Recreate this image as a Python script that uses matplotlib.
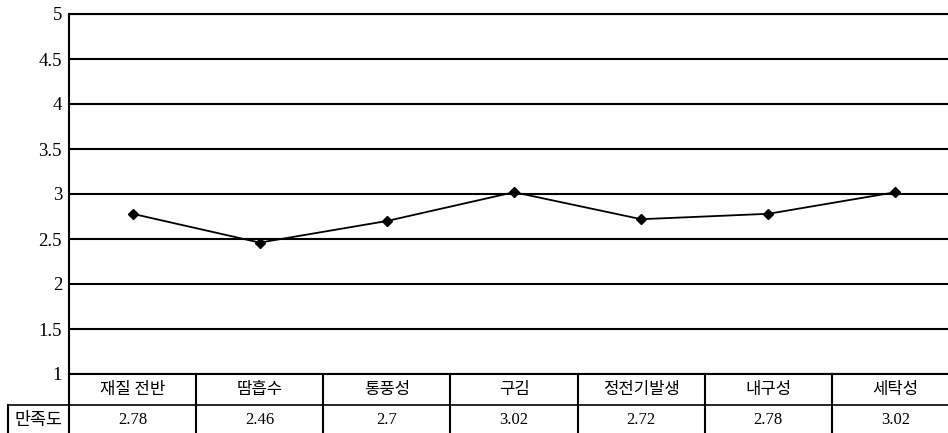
import matplotlib
matplotlib.use("Agg")
from matplotlib import pyplot as plt
from matplotlib.lines import Line2D

# chart values
categories = ["재질 전반", "땀흡수", "통풍성", "구김", "정전기발생", "내구성", "세탁성"]
satisfaction = [2.78, 2.46, 2.7, 3.02, 2.72, 2.78, 3.02]
value_labels = ["2.78", "2.46", "2.7", "3.02", "2.72", "2.78", "3.02"]
row_label = "만족도"
y_ticks = [1, 1.5, 2, 2.5, 3, 3.5, 4, 4.5, 5]
y_tick_labels = ["1", "1.5", "2", "2.5", "3", "3.5", "4", "4.5", "5"]

KR = ["Noto Sans CJK KR", "DejaVu Sans"]
NUM = ["Liberation Serif", "DejaVu Serif"]

W, H = 948, 433
fig = plt.figure(figsize=(W / 100, H / 100), dpi=100)

# plot area in pixels: left 69, top 14, bottom 374, column width ~127
left, top, bottom, col_w = 69, 14, 374, 127.15
ax_w = col_w * len(categories)
ax = fig.add_axes([left / W, 1 - bottom / H, ax_w / W, (bottom - top) / H])

x = list(range(len(categories)))
ax.plot(x, satisfaction, color="black", lw=1.3, marker="D", ms=5.5, zorder=3)

ax.set_xlim(-0.5, len(categories) - 0.5)
ax.set_ylim(1, 5)
ax.set_yticks(y_ticks)
ax.set_yticklabels(y_tick_labels, family=NUM, fontsize=13.5)
ax.tick_params(axis="y", length=0, pad=5)
ax.set_xticks([])
ax.grid(axis="y", color="black", lw=1.5)
for s in ["left", "top", "bottom"]:
    ax.spines[s].set_color("black")
    ax.spines[s].set_linewidth(1.5)
ax.spines["right"].set_visible(False)

# data table under the plot
rh = 31 / (bottom - top)
trans = ax.get_xaxis_transform()
for k in range(len(categories) + 1):
    ax.add_line(Line2D([k - 0.5, k - 0.5], [0, -2.2 * rh], transform=trans,
                       color="black", lw=1.5, clip_on=False))
ax.add_line(Line2D([-0.5, len(categories) - 0.5], [-rh, -rh], transform=trans,
                   color="black", lw=1.2, clip_on=False))
for i, (cat, val) in enumerate(zip(categories, value_labels)):
    ax.text(i, -0.5 * rh, cat, transform=trans, ha="center", va="center",
            family=KR, fontsize=12, fontweight="light")
    ax.text(i, -1.5 * rh, val, transform=trans, ha="center", va="center",
            family=NUM, fontsize=12)

# row label box
bx = (8 - left) / ax_w
ax.add_line(Line2D([bx, 0], [-rh, -rh], transform=ax.transAxes,
                   color="black", lw=1.2, clip_on=False))
ax.add_line(Line2D([bx, bx], [-rh, -2.2 * rh], transform=ax.transAxes,
                   color="black", lw=1.5, clip_on=False))
ax.text(bx / 2, -1.5 * rh, row_label, transform=ax.transAxes, ha="center",
        va="center", family=KR, fontsize=12.5)

fig.savefig("out.png", dpi=100)
